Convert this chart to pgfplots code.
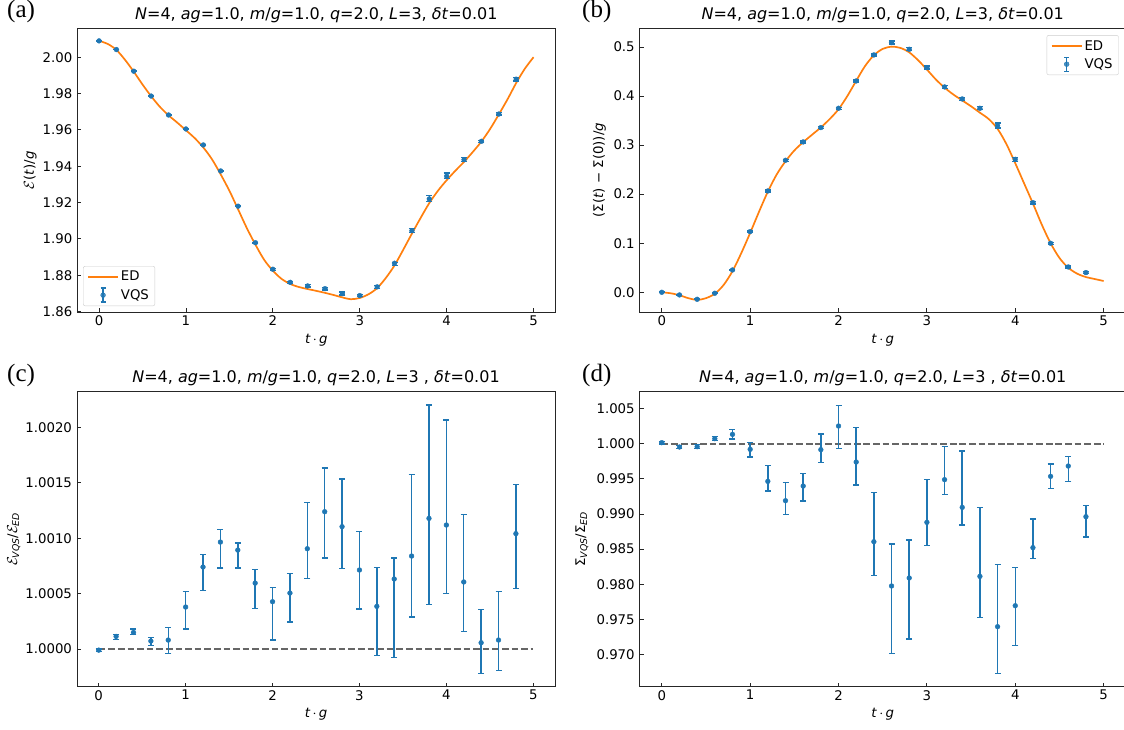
\documentclass[border=0pt]{standalone}
\usepackage{fontspec}
\setmainfont{DejaVu Sans}
\newfontfamily\serifl{Liberation Serif}
\usepackage{amsmath}
\usepackage{pgfplots}
\usepackage{pgfplotstable}
\pgfplotsset{compat=1.18}

\definecolor{mplblue}{HTML}{1F77B4}
\definecolor{mplorange}{HTML}{FF7F0E}
\newcommand{\tf}{\fontsize{13.3}{15}\selectfont}

% (a) energy
\pgfplotstableread{
t v ep em
0.0 2.00897 0.00002 0.00002
0.2 2.0042 0.00004 0.00006
0.4 1.9923 0.00006 0.00004
0.6 1.9786 0.00006 0.00008
0.8 1.9682 0.00022 0.00024
1.0 1.9605 0.00028 0.00039
1.2 1.9517 0.00022 0.00042
1.4 1.9374 0.00022 0.00045
1.6 1.9180 0.00012 0.00031
1.8 1.8979 0.00024 0.00044
2.0 1.8833 0.00024 0.00065
2.2 1.8761 0.00033 0.00049
2.4 1.8741 0.00078 0.00051
2.6 1.8726 0.00074 0.00078
2.8 1.8699 0.00080 0.00070
3.0 1.8688 0.00065 0.00066
3.2 1.8736 0.00065 0.00083
3.4 1.8866 0.00036 0.00134
3.6 1.9045 0.00140 0.00105
3.8 1.9220 0.00196 0.00150
4.0 1.9345 0.00183 0.00119
4.2 1.9436 0.00118 0.00087
4.4 1.9537 0.00059 0.00054
4.6 1.9687 0.00086 0.00054
4.8 1.9879 0.00088 0.00098
}\vqsE

\pgfplotstableread{
t e
0.0 2.0090
0.1 2.0073
0.2 2.0040
0.3 1.9985
0.4 1.9920
0.5 1.9850
0.6 1.9785
0.7 1.9727
0.8 1.9680
0.9 1.9640
1.0 1.9598
1.1 1.9555
1.2 1.9503
1.3 1.9438
1.4 1.9355
1.5 1.9265
1.6 1.9163
1.7 1.9060
1.8 1.8968
1.9 1.8885
2.0 1.8825
2.1 1.8780
2.2 1.8752
2.3 1.8735
2.4 1.8724
2.5 1.8714
2.6 1.8703
2.7 1.8691
2.8 1.8678
2.9 1.8668
3.0 1.8675
3.1 1.8695
3.2 1.8729
3.3 1.8785
3.4 1.8854
3.5 1.8940
3.6 1.9029
3.7 1.9115
3.8 1.9197
3.9 1.9265
4.0 1.9323
4.1 1.9375
4.2 1.9424
4.3 1.9478
4.4 1.9536
4.5 1.9605
4.6 1.9685
4.7 1.9768
4.8 1.9858
4.9 1.9937
5.0 2.0000
}\edE

% (b) entanglement difference
\pgfplotstableread{
t v err
0.0 0.0000 0.0005
0.2 -0.0054 0.001
0.4 -0.0143 0.001
0.6 -0.0020 0.001
0.8 0.0455 0.0015
1.0 0.1236 0.0015
1.2 0.2065 0.002
1.4 0.2690 0.002
1.6 0.3064 0.002
1.8 0.3356 0.002
2.0 0.3750 0.002
2.2 0.4307 0.002
2.4 0.4837 0.002
2.6 0.5088 0.003
2.8 0.4952 0.003
3.0 0.4579 0.003
3.2 0.4185 0.003
3.4 0.3940 0.003
3.6 0.3750 0.003
3.8 0.3397 0.005
4.0 0.2710 0.004
4.2 0.1827 0.003
4.4 0.0999 0.002
4.6 0.0516 0.002
4.8 0.0401 0.002
}\vqsS

\pgfplotstableread{
t s
0.0 0.000
0.1 -0.002
0.2 -0.006
0.3 -0.012
0.4 -0.0155
0.5 -0.012
0.6 -0.003
0.7 0.015
0.8 0.043
0.9 0.080
1.0 0.121
1.1 0.164
1.2 0.205
1.3 0.240
1.4 0.267
1.5 0.289
1.6 0.306
1.7 0.321
1.8 0.336
1.9 0.353
2.0 0.373
2.1 0.400
2.2 0.431
2.3 0.461
2.4 0.483
2.5 0.496
2.6 0.5005
2.7 0.498
2.8 0.489
2.9 0.473
3.0 0.454
3.1 0.434
3.2 0.417
3.3 0.403
3.4 0.391
3.5 0.379
3.6 0.366
3.7 0.353
3.8 0.333
3.9 0.302
4.0 0.263
4.1 0.222
4.2 0.181
4.3 0.138
4.4 0.100
4.5 0.070
4.6 0.050
4.7 0.038
4.8 0.031
4.9 0.027
5.0 0.023
}\edS

% (c) energy ratio
\pgfplotstableread{
t v ep em
0.0 0.99999 0.00001 0.00001
0.2 1.000114 0.00002 0.00003
0.4 1.00015 0.00003 0.00002
0.6 1.000072 0.00003 0.00004
0.8 1.000081 0.000111 0.000121
1.0 1.000379 0.000141 0.000199
1.2 1.00074 0.000114 0.000214
1.4 1.000965 0.000112 0.000234
1.6 1.000893 0.000063 0.000162
1.8 1.000595 0.000124 0.000231
2.0 1.000427 0.000126 0.000346
2.2 1.000505 0.000178 0.000261
2.4 1.000905 0.000418 0.00027
2.6 1.001239 0.000394 0.000418
2.8 1.001104 0.00043 0.000376
3.0 1.000713 0.000346 0.000352
3.2 1.000385 0.000349 0.000445
3.4 1.000632 0.000189 0.00071
3.6 1.000839 0.000737 0.00055
3.8 1.001179 0.001022 0.000779
4.0 1.001119 0.000947 0.000617
4.2 1.000605 0.000607 0.000449
4.4 1.000057 0.000301 0.000277
4.6 1.000081 0.000439 0.000276
4.8 1.001041 0.000442 0.000494
}\ratE

% (d) entanglement ratio
\pgfplotstableread{
t v ep em
0.0 1.00016 0.0002 0.0002
0.2 0.99954 0.0002 0.0002
0.4 0.99959 0.0003 0.0003
0.6 1.00073 0.0003 0.0003
0.8 1.00134 0.00067 0.00066
1.0 0.99921 0.00099 0.0011
1.2 0.99465 0.00223 0.00138
1.4 0.99189 0.00257 0.00194
1.6 0.99398 0.00176 0.00213
1.8 0.99916 0.00223 0.00181
2.0 1.00253 0.00294 0.00318
2.2 0.99740 0.00490 0.00327
2.4 0.98605 0.00698 0.00484
2.6 0.97974 0.00598 0.00964
2.8 0.98088 0.00541 0.00869
3.0 0.98881 0.00608 0.00333
3.2 0.99489 0.00470 0.00209
3.4 0.99094 0.00803 0.00251
3.6 0.98111 0.00983 0.00584
3.8 0.97394 0.00888 0.00664
4.0 0.97693 0.00547 0.00569
4.2 0.98520 0.00408 0.00152
4.4 0.99536 0.00176 0.00171
4.6 0.99683 0.00133 0.00223
4.8 0.98961 0.00157 0.00289
}\ratS

\pgfplotsset{
  panel/.style={scale only axis, xmin=-0.25, xmax=5.25,
    xtick={0,1,2,3,4,5}, tick align=inside, tick pos=left,
    major tick length=4pt,
    axis line style={black!85, line width=0.8pt},
    every tick/.style={black!85, line width=0.8pt},
    tick label style={font=\tf},
    yticklabel style={xshift=-1.5pt},
    label style={font=\tf},
    title style={font=\fontsize{16}{18}\selectfont, yshift=-4pt},
    /pgf/number format/assume math mode=true,
    xlabel={\textit{t}\,$\cdot$\,\textit{g}},
    x label style={at={(axis description cs:0.5,0)}, anchor=base, yshift=-31pt},
    legend cell align=left,
    legend style={font=\tf, draw=black!20, rounded corners=2pt, fill=white,
      fill opacity=0.8, text opacity=1, inner xsep=4pt, inner ysep=3pt,
      row sep=3pt},
  },
  vqs/.style={only marks, mark=*, mark size=2.4pt, color=mplblue,
    mark options={fill=mplblue, draw=mplblue},
    error bars/y dir=both, error bars/y explicit,
    error bars/error bar style={line width=1.5pt, mplblue},
    error bars/error mark options={rotate=90, mplblue, mark size=3pt, line width=1.3pt}},
  vqsleg/.style={legend image code/.code={
    \draw[mplblue, line width=1.4pt] (15pt,-7pt) -- (15pt,7pt)
      (12.5pt,-7pt) -- (17.5pt,-7pt) (12.5pt,7pt) -- (17.5pt,7pt);
    \fill[mplblue] (15pt,0pt) circle (2.4pt);}},
  edleg/.style={legend image code/.code={
    \draw[mplorange, line width=1.7pt] (0pt,0pt) -- (30pt,0pt);}},
  oneline/.style={black!60, line width=1.8pt, dash pattern=on 6.7pt off 2.9pt, forget plot},
}

\newcommand{\ttl}[1]{\textit{N}=4, \textit{ag}=1.0, \textit{m}/\textit{g}=1.0, \textit{q}=2.0, \textit{L}=3#1, \textit{δt}=0.01}

\begin{document}
\begin{tikzpicture}
\useasboundingbox (0pt,0pt) rectangle (1124pt,729pt);

% (a)
\begin{axis}[panel, at={(77.3pt,416.7pt)}, anchor=south west,
  width=478pt, height=284pt, ymin=1.8596, ymax=2.0159,
  ytick={1.86,1.88,1.90,1.92,1.94,1.96,1.98,2.00},
  yticklabels={1.86,1.88,1.90,1.92,1.94,1.96,1.98,2.00},
  title={\ttl{}},
  ylabel={$\mathcal{E}$(\textit{t})/\textit{g}},
  y label style={at={(axis description cs:-0.0906,0.5)}, anchor=base},
  legend style={at={(axis description cs:0.012,0.022)}, anchor=south west}]
  \addplot[mplorange, line width=1.7pt, smooth, edleg] table[x=t, y=e] {\edE};
  \addlegendentry{ED}
  \addplot[vqsleg, vqs] table[x=t, y=v, y error plus=ep, y error minus=em] {\vqsE};
  \addlegendentry{VQS}
\end{axis}

% (b)
\begin{axis}[panel, at={(639.7pt,416.7pt)}, anchor=south west,
  width=486pt, height=284pt, ymin=-0.0408, ymax=0.538,
  ytick={0,0.1,0.2,0.3,0.4,0.5},
  yticklabels={0.0,0.1,0.2,0.3,0.4,0.5},
  title={\ttl{}},
  ylabel={(Σ(\textit{t}) − Σ(0))/\textit{g}},
  y label style={at={(axis description cs:-0.0755,0.5)}, anchor=base},
  legend style={at={(axis description cs:0.9856,0.976)}, anchor=north east}]
  \addplot[mplorange, line width=1.7pt, smooth, edleg] table[x=t, y=s] {\edS};
  \addlegendentry{ED}
  \addplot[vqsleg, vqs] table[x=t, y=v, y error=err] {\vqsS};
  \addlegendentry{VQS}
\end{axis}

% (c)
\begin{axis}[panel, at={(77pt,42.3pt)}, anchor=south west,
  width=478pt, height=295pt, ymin=0.99966, ymax=1.002322,
  ytick={1.0000,1.0005,1.0010,1.0015,1.0020},
  yticklabels={1.0000,1.0005,1.0010,1.0015,1.0020},
  title={\ttl{ }},
  ylabel={$\mathcal{E}_{\textit{VQS}}$/$\mathcal{E}_{\textit{ED}}$},
  y label style={at={(axis description cs:-0.1255,0.5)}, anchor=base}]
  \addplot[oneline] coordinates {(0,1) (5,1)};
  \addplot[vqs] table[x=t, y=v, y error plus=ep, y error minus=em] {\ratE};
\end{axis}

% (d)
\begin{axis}[panel, at={(639.7pt,42.3pt)}, anchor=south west,
  width=486pt, height=295pt, ymin=0.96539, ymax=1.00742,
  ytick={0.970,0.975,0.980,0.985,0.990,0.995,1.000,1.005},
  yticklabels={0.970,0.975,0.980,0.985,0.990,0.995,1.000,1.005},
  title={\ttl{ }},
  ylabel={Σ$_{\textit{VQS}}$/Σ$_{\textit{ED}}$},
  y label style={at={(axis description cs:-0.1125,0.5)}, anchor=base}]
  \addplot[oneline] coordinates {(0,1) (5,1)};
  \addplot[vqs] table[x=t, y=v, y error plus=ep, y error minus=em] {\ratS};
\end{axis}

\node[anchor=base west, inner sep=0pt, font=\serifl\fontsize{25}{25}\selectfont] at (7pt,711pt) {(a)};
\node[anchor=base west, inner sep=0pt, font=\serifl\fontsize{25}{25}\selectfont] at (582pt,711pt) {(b)};
\node[anchor=base west, inner sep=0pt, font=\serifl\fontsize{25}{25}\selectfont] at (7pt,347pt) {(c)};
\node[anchor=base west, inner sep=0pt, font=\serifl\fontsize{25}{25}\selectfont] at (582pt,347pt) {(d)};
\end{tikzpicture}
\end{document}
